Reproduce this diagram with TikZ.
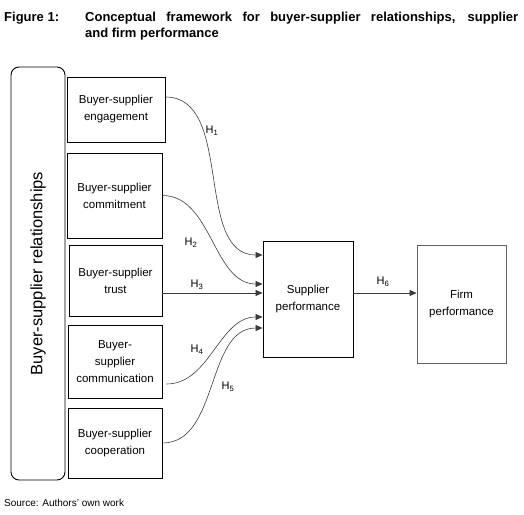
\documentclass[tikz,border=0pt]{standalone}
\usepackage{fontspec}
\setmainfont{Liberation Sans}
\usetikzlibrary{positioning, arrows.meta, calc}
\definecolor{linegray}{RGB}{60, 60, 60}
\definecolor{boxgray}{RGB}{95, 95, 95}

\begin{document}
\begin{tikzpicture}[x=1pt, y=-1pt,
    factor/.style={draw, line width=0.9pt, align=center, inner sep=0pt,
      font=\fontsize{11.5}{17}\selectfont},
    hyp/.style={linegray, line width=0.6pt, -{Triangle[length=7pt, width=6pt]}},
    hlabel/.style={inner sep=0pt, font=\fontsize{11}{13}\selectfont}]
  \useasboundingbox (0,0) rectangle (524,514);
  % title
  \node[anchor=base west, inner sep=0pt, font=\bfseries\fontsize{13}{16}\selectfont]
    (fig) at (4,21) {Figure 1:};
  \node[anchor=north west, text width=433pt, align=justify, inner sep=0pt,
    font=\bfseries\fontsize{13}{16}\selectfont] (title) at (85,11.5)
    {Conceptual framework for buyer-supplier relationships, supplier\linebreak and firm performance};
  % relationships frame
  \node[draw, line width=0.9pt, rounded corners=8pt, rotate=90, minimum width=413pt,
    minimum height=54pt, inner sep=0pt, font=\fontsize{16.5}{20}\selectfont]
    (rel) at (38,273.5) {Buyer-supplier relationships};
  % dimensions
  \node[factor, minimum width=98pt, minimum height=65pt] (eng) at (116,109.5) {Buyer-supplier\\engagement};
  \node[factor, minimum width=95pt, minimum height=85pt] (com) at (114.5,195.5) {Buyer-supplier\\commitment};
  \node[factor, minimum width=93pt, minimum height=71pt] (tru) at (115.5,280.5) {Buyer-supplier\\trust};
  \node[factor, minimum width=94pt, minimum height=73pt] (cmm) at (115,361.5) {Buyer-\\supplier\\communication};
  \node[factor, minimum width=94pt, minimum height=70pt] (coo) at (115,443) {Buyer-supplier\\cooperation};
  % outcomes
  \node[factor, minimum width=90pt, minimum height=116pt] (sup) at (308,299) {Supplier\\performance};
  \node[factor, draw=boxgray, minimum width=89pt, minimum height=118pt] (firm) at (461.5,304) {Firm\\performance};
  % H1
  \draw[hyp] ([yshift=12.5pt]eng.east) to[out=0, in=180, looseness=0.95] ([yshift=44pt]sup.west);
  % H2
  \draw[hyp] (com.east) to[out=0, in=180, looseness=0.95] ([yshift=15pt]sup.west);
  % H3
  \coordinate (h3end) at ([yshift=6pt]sup.west);
  \draw[hyp] (tru.east |- h3end) -- (h3end);
  % H4
  \draw[hyp] ([xshift=4pt, yshift=-22.5pt]cmm.east) to[out=0, in=180, looseness=0.95] ([yshift=-18pt]sup.west);
  % H5
  \draw[hyp] (coo.east) to[out=0, in=180, looseness=0.95] ([yshift=-29pt]sup.west);
  % H6
  \coordinate (h6start) at ([yshift=6pt]sup.east);
  \draw[hyp] (h6start) -- (firm.west |- h6start);
  % hypothesis labels
  \node[hlabel] (lh1) at (212,131) {H\textsubscript{1}};
  \node[hlabel] (lh2) at (191,243) {H\textsubscript{2}};
  \node[hlabel] (lh3) at (197,285) {H\textsubscript{3}};
  \node[hlabel] (lh4) at (197,350) {H\textsubscript{4}};
  \node[hlabel] (lh5) at (228,387) {H\textsubscript{5}};
  \node[hlabel] (lh6) at (383,282) {H\textsubscript{6}};
  % source
  \node[anchor=west, inner sep=0pt, font=\fontsize{10}{12}\selectfont] (src) at (4,503)
    {Source: Authors' own work};
\end{tikzpicture}
\end{document}
